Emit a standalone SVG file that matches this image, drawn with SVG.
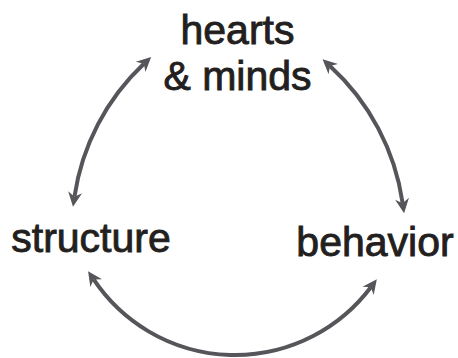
<svg xmlns="http://www.w3.org/2000/svg" width="458" height="358" viewBox="0 0 458 358">
  <style>
    .lbl { font-family: "Liberation Sans", Arial, Helvetica, sans-serif; font-size: 41px; fill: #231f20; stroke: #231f20; stroke-width: 0.9; text-anchor: middle; }
    .arc { fill: none; stroke: #55555a; stroke-width: 4; marker-start: url(#head); marker-end: url(#head); }
  </style>
  <defs>
    <marker id="head" markerUnits="userSpaceOnUse" viewBox="-6 -8 18 16" refX="0" refY="0" markerWidth="18" markerHeight="16" orient="auto-start-reverse">
      <path d="M10,0 L-4.5,-7 L0,0 L-4.5,7 Z" fill="#55555a"/>
    </marker>
  </defs>
  <rect width="458" height="358" fill="#ffffff"/>
  <g id="connectors">
    <path class="arc" d="M74.44,196.77 A228,228 0 0 1 143.89,63.82"/>
    <path class="arc" d="M329.95,66.03 A230,230 0 0 1 402.67,203.32"/>
    <path class="arc" d="M93.65,279.45 A170,170 0 0 0 370.82,287.24"/>
  </g>
  <g id="node-hearts-minds">
    <text class="lbl" x="237.5" y="44">hearts</text>
    <text class="lbl" x="237.5" y="90">&amp; minds</text>
  </g>
  <g id="node-structure">
    <text class="lbl" x="91" y="252">structure</text>
  </g>
  <g id="node-behavior">
    <text class="lbl" x="375" y="256">behavior</text>
  </g>
</svg>
